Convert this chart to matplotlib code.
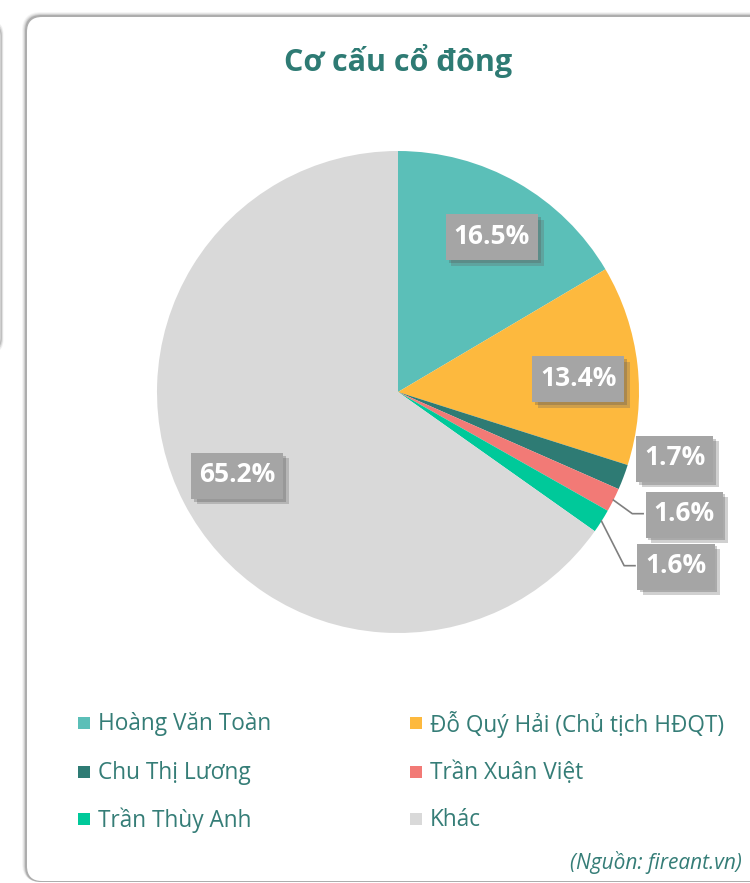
import matplotlib
matplotlib.use("Agg")
import matplotlib.pyplot as plt
from matplotlib.patches import FancyBboxPatch, Rectangle
import matplotlib.patheffects as pe
import numpy as np

# ---- data ----
labels = ["Hoàng Văn Toàn", "Đỗ Quý Hải (Chủ tịch HĐQT)", "Chu Thị Lương",
          "Trần Xuân Việt", "Trần Thùy Anh", "Khác"]
values = [16.5, 13.4, 1.7, 1.6, 1.6, 65.2]
colors = ["#5BBFB8", "#FDB93E", "#2E7B74", "#F27A76", "#00C99A", "#D9D9D9"]
title = "Cơ cấu cổ đông"
source = "(Nguồn: fireant.vn)"

W, H = 750, 883
plt.rcParams['font.family'] = ['Open Sans', 'DejaVu Sans']
fig = plt.figure(figsize=(W / 100, H / 100), dpi=100)
fig.patch.set_facecolor("white")

# background axes in pixel coords (y downwards)
bg = fig.add_axes([0, 0, 1, 1])
bg.set_xlim(0, W)
bg.set_ylim(H, 0)
bg.axis("off")

# partial neighbouring card on left
for i, a in enumerate([0.10, 0.18, 0.28]):
    bg.add_patch(FancyBboxPatch((-40 + i, 22 + i), 42 - i * 1.5, 330 - 2 * i,
                                boxstyle="round,pad=0,rounding_size=12",
                                fc="none", ec=(0.4, 0.4, 0.4, a), lw=2.0 - i * 0.5))
# card shadow
for i, a in enumerate([0.06, 0.10, 0.16, 0.28]):
    d = 4 - i
    bg.add_patch(FancyBboxPatch((26 - d, 16 - d), 900, 866 + d,
                                boxstyle="round,pad=0,rounding_size=%d" % (15 + d),
                                fc=(0.35, 0.35, 0.35, a), ec="none"))
bg.add_patch(FancyBboxPatch((27, 17), 900, 864,
                            boxstyle="round,pad=0,rounding_size=15",
                            fc="white", ec="none"))

teal_text = "#357D77"
bg.text(398, 61, title, ha="center", va="center", fontsize=22,
        fontweight="bold", color="#2E7B74")

# ---- pie ----
cx, cy, R = 398, 392, 241
ax = fig.add_axes([(cx - R) / W, 1 - (cy + R) / H, 2 * R / W, 2 * R / H])
wedges, _ = ax.pie(values, colors=colors, startangle=90, counterclock=False,
                   radius=1.0, wedgeprops=dict(linewidth=0))
ax.set_xlim(-1, 1)
ax.set_ylim(-1, 1)
ax.axis("off")

# label placement (radius, angle tweak) per slice
total = sum(values)
cum = np.cumsum([0] + values[:-1])
mids = 90 - (cum + np.array(values) / 2) / total * 360
lab_r = [0.755, 0.75, 1.18, 1.29, 1.36, 0.75]
lab_da = [-1.4, -2.1, 7.3, 3.6, 0.4, -0.1]
leader = [False, False, False, True, True, False]
texts = []
for i, v in enumerate(values):
    ang = np.deg2rad(mids[i] + lab_da[i])
    x, y = lab_r[i] * np.cos(ang), lab_r[i] * np.sin(ang)
    t = ax.text(x, y, f"{v:.1f}%", ha="center", va="center", fontsize=19,
                fontweight="bold", color="white", zorder=6)
    texts.append(t)
    if leader[i]:
        a0 = np.deg2rad(mids[i])
        x0, y0 = np.cos(a0), np.sin(a0)
        xe = x - 0.17
        ax.plot([x0, xe - 0.045, xe], [y0, y, y], color="#7F7F7F", lw=1.2,
                zorder=4, clip_on=False)

# boxes behind label texts, sized from text extent
fig.canvas.draw()
renderer = fig.canvas.get_renderer()
inv = ax.transData.inverted()
for t in texts:
    bb = t.get_window_extent(renderer)
    xc, yc = (bb.x0 + bb.x1) / 2, (bb.y0 + bb.y1) / 2
    w = bb.width + 16
    h = 46
    (x0d, y0d) = inv.transform((xc - w / 2, yc - h / 2 - 1))
    (x1d, y1d) = inv.transform((xc + w / 2, yc + h / 2 - 1))
    rect = Rectangle((x0d, y0d), x1d - x0d, y1d - y0d, fc="#A5A5A5", ec="none",
                     zorder=5, clip_on=False)
    rect.set_path_effects([
        pe.withSimplePatchShadow(offset=(4, -4), shadow_rgbFace="#666666", alpha=0.3),
        pe.withSimplePatchShadow(offset=(2, -2), shadow_rgbFace="#555555", alpha=0.3),
        pe.Normal()])
    ax.add_patch(rect)

# ---- legend ----
col_x = [78, 410]
row_y = [723, 772, 819]
for i, lab in enumerate(labels):
    r, c = divmod(i, 2)
    x, y = col_x[c], row_y[r]
    bg.add_patch(Rectangle((x, y - 6), 12, 12, fc=colors[i], ec="none"))
    bg.text(x + 20, y + 1, lab, ha="left", va="center", fontsize=16.3, color=teal_text)

bg.text(570, 862, source, ha="left", va="center", fontsize=15,
        style="italic", color=teal_text)

fig.savefig("out.png", dpi=100)
